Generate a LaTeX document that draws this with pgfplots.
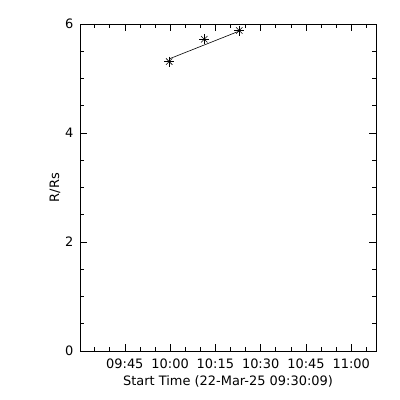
\documentclass[border=0pt]{standalone}
\usepackage{fontspec}
\setmainfont{DejaVu Sans}
\usepackage{pgfplots}
\pgfplotsset{compat=1.18}
\begin{document}
\begin{tikzpicture}[x=1bp,y=1bp]
\useasboundingbox[fill=white] (0,0) rectangle (400,400);
\begin{axis}[
  at={(80bp,49bp)}, anchor=south west,
  scale only axis, width=296bp, height=327bp,
  xmin=0.15, xmax=98.2, ymin=0, ymax=6,
  xtick={15,30,45,60,75,90},
  xticklabels={09:45,10:00,10:15,10:30,10:45,11:00},
  minor xtick={5,10,20,25,35,40,50,55,65,70,80,85,95},
  ytick={0,2,4,6}, minor ytick={0.5,1,1.5,2.5,3,3.5,4.5,5,5.5},
  tick align=inside, tick pos=both,
  major tick length=7bp, minor tick length=4bp,
  every tick/.style={black, line width=0.6pt},
  axis line style={line width=0.6pt},
  /pgf/number format/assume math mode=true,
  tick label style={font=\fontsize{13}{15}\selectfont},
  label style={font=\fontsize{13}{15}\selectfont},
  xlabel={Start Time (22-Mar-25 09:30:09)},
  ylabel={R/Rs},
  xlabel style={yshift=-1bp},
  ylabel style={yshift=-2bp},
  xticklabel style={yshift=-4bp},
  yticklabel style={xshift=-3bp},
  clip=false,
]
\addplot[black, line width=0.6pt] coordinates {(29.7,5.36) (52.9,5.87)};
\addplot[only marks, mark=+, mark size=5bp, mark options={line width=0.6pt}] coordinates {(29.7,5.31) (41.3,5.72) (52.9,5.88)};
\addplot[only marks, mark=x, mark size=4.5bp, mark options={line width=0.6pt}] coordinates {(29.7,5.31) (41.3,5.72) (52.9,5.88)};
\end{axis}
\end{tikzpicture}
\end{document}
